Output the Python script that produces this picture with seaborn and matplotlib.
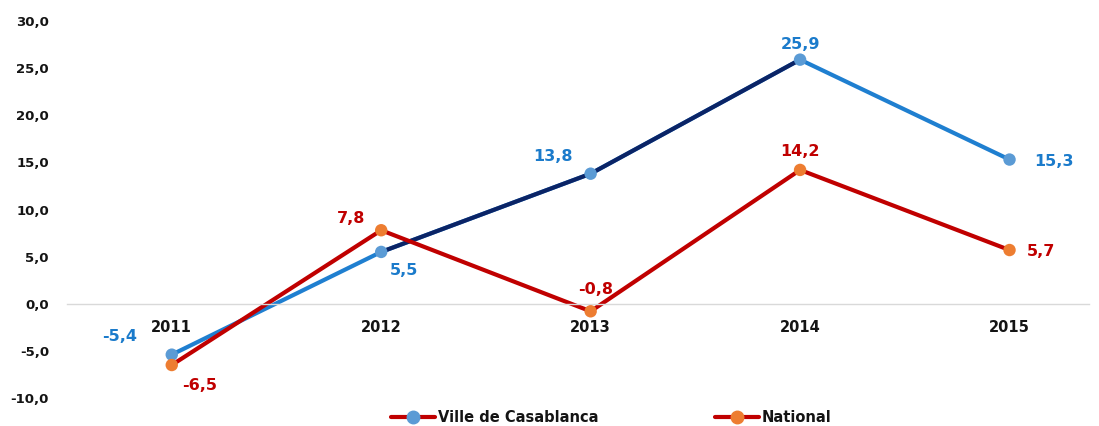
import pandas as pd
import matplotlib.pyplot as plt
import seaborn as sns
from matplotlib.lines import Line2D

# Data
years = [2011, 2012, 2013, 2014, 2015]
casablanca = [-5.4, 5.5, 13.8, 25.9, 15.3]
national = [-6.5, 7.8, -0.8, 14.2, 5.7]
y_ticks = [-10, -5, 0, 5, 10, 15, 20, 25, 30]

# Colours
blue_line = "#1F7FD0"
navy_line = "#0B2466"
blue_marker = "#5B9BD5"
blue_text = "#1B7BCB"
red_line = "#C00000"
orange_marker = "#ED7D31"
red_text = "#C00000"
text_dark = "#141414"

df = pd.DataFrame({"year": years, "Ville de Casablanca": casablanca, "National": national})

sns.set_style("white")
plt.rcParams['font.family'] = ['DejaVu Sans']

fig = plt.figure(figsize=(10.99, 4.26), dpi=100)
ax = fig.add_axes([0.061, 0.0657, 0.93, 0.885])

# Casablanca: light blue line, middle segments in navy
sns.lineplot(data=df, x="year", y="Ville de Casablanca", ax=ax, color=blue_line, linewidth=3)
mid = df[(df["year"] >= 2012) & (df["year"] <= 2014)]
sns.lineplot(data=mid, x="year", y="Ville de Casablanca", ax=ax, color=navy_line, linewidth=3)

# National
sns.lineplot(data=df, x="year", y="National", ax=ax, color=red_line, linewidth=3)

# Markers
sns.scatterplot(data=df, x="year", y="Ville de Casablanca", ax=ax, color=blue_marker,
                s=80, edgecolor="none", zorder=5)
sns.scatterplot(data=df, x="year", y="National", ax=ax, color=orange_marker,
                s=80, edgecolor="none", zorder=5)

# Data labels (offsets in pixels)
casa_off = [(-52, 18), (23, -19), (-38, 17), (0, 15), (44, -2)]
nat_off = [(28, -20), (-30, 12), (5, 22), (0, 18), (31, -1)]
for x, y, off in zip(years, casablanca, casa_off):
    ax.annotate(f"{y:.1f}".replace(".", ","), (x, y), xytext=off, textcoords="offset pixels",
                ha="center", va="center", color=blue_text, fontsize=11.5, fontweight="bold")
for x, y, off in zip(years, national, nat_off):
    ax.annotate(f"{y:.1f}".replace(".", ","), (x, y), xytext=off, textcoords="offset pixels",
                ha="center", va="center", color=red_text, fontsize=11.5, fontweight="bold")

# Axes styling (spine position first, it resets tick styling)
for side in ["top", "right", "left"]:
    ax.spines[side].set_visible(False)
ax.spines["bottom"].set_position(("data", 0))
ax.spines["bottom"].set_color("#D9D9D9")
ax.spines["bottom"].set_linewidth(1)

ax.set_xlim(2010.5, 2015.38)
ax.set_ylim(-10, 30)
ax.set_xticks(years)
ax.set_xticklabels([str(y) for y in years], fontsize=10.5, fontweight="bold", color=text_dark)
ax.set_yticks(y_ticks)
ax.set_yticklabels([f"{v:.1f}".replace(".", ",") for v in y_ticks], fontsize=9.5,
                   fontweight="bold", color=text_dark)
ax.tick_params(axis="x", length=0, pad=12)
ax.tick_params(axis="y", length=0, pad=13)
ax.set_xlabel("")
ax.set_ylabel("")

# Legend
handles = [
    Line2D([0], [0], color=red_line, linewidth=3, marker="o", markersize=9,
           markerfacecolor=blue_marker, markeredgecolor=blue_marker),
    Line2D([0], [0], color=red_line, linewidth=3, marker="o", markersize=9,
           markerfacecolor=orange_marker, markeredgecolor=orange_marker),
]
leg = fig.legend(handles, ["Ville de Casablanca", "National"], loc="center",
                 bbox_to_anchor=(0.556, 0.02), ncol=2, frameon=False,
                 prop={"size": 10.5, "weight": "bold"}, columnspacing=8,
                 handlelength=3, handletextpad=0.2)
for t in leg.get_texts():
    t.set_color(text_dark)

fig.savefig("out.png", dpi=100)
